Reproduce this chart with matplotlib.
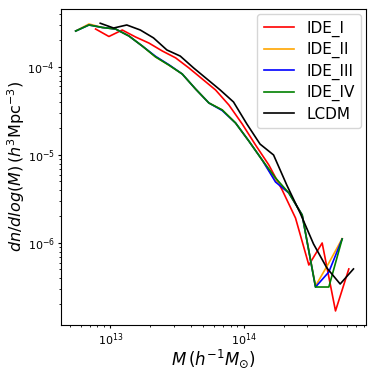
import matplotlib
matplotlib.use("Agg")
import matplotlib.pyplot as plt

# Mass bins (h^-1 Msun)
M_ide = [5.50e12, 6.92e12, 8.71e12, 1.096e13, 1.380e13, 1.738e13, 2.188e13, 2.754e13,
         3.467e13, 4.365e13, 5.495e13, 6.918e13, 8.710e13, 1.096e14, 1.380e14, 1.738e14,
         2.188e14, 2.754e14, 3.467e14, 4.365e14, 5.495e14]
M_ide1 = [7.76e12, 9.77e12, 1.230e13, 1.549e13, 1.950e13, 2.455e13, 3.090e13, 3.890e13,
          4.898e13, 6.166e13, 7.762e13, 9.772e13, 1.230e14, 1.549e14, 1.950e14, 2.455e14,
          3.090e14, 3.890e14, 4.898e14, 6.166e14]
M_lcdm = [8.41e12, 1.059e13, 1.33e13, 1.68e13, 2.11e13, 2.66e13, 3.35e13, 4.22e13,
          5.31e13, 6.68e13, 8.41e13, 1.059e14, 1.33e14, 1.68e14, 2.11e14, 2.66e14,
          3.35e14, 4.22e14, 5.31e14, 6.68e14]

ide1 = [2.70e-4, 2.22e-4, 2.63e-4, 2.19e-4, 1.87e-4, 1.52e-4, 1.27e-4, 9.75e-5,
        7.31e-5, 5.48e-5, 3.70e-5, 2.25e-5, 1.30e-5, 7.69e-6, 4.00e-6, 1.92e-6,
        5.62e-7, 1.00e-6, 1.69e-7, 5.07e-7]
ide2 = [2.56e-4, 3.08e-4, 2.81e-4, 2.70e-4, 2.25e-4, 1.73e-4, 1.30e-4, 1.05e-4,
        8.32e-5, 5.62e-5, 3.90e-5, 3.25e-5, 2.31e-5, 1.44e-5, 8.77e-6, 5.10e-6,
        3.70e-6, 2.08e-6, 3.24e-7, 5.93e-7, 1.12e-6]
ide3 = [2.56e-4, 3.00e-4, 2.81e-4, 2.70e-4, 2.25e-4, 1.73e-4, 1.32e-4, 1.06e-4,
        8.32e-5, 5.62e-5, 3.90e-5, 3.20e-5, 2.31e-5, 1.44e-5, 8.77e-6, 4.93e-6,
        3.70e-6, 2.08e-6, 3.16e-7, 4.68e-7, 1.11e-6]
ide4 = [2.56e-4, 3.00e-4, 2.81e-4, 2.70e-4, 2.25e-4, 1.73e-4, 1.30e-4, 1.05e-4,
        8.32e-5, 5.62e-5, 3.90e-5, 3.25e-5, 2.31e-5, 1.44e-5, 8.77e-6, 5.48e-6,
        3.70e-6, 2.08e-6, 3.16e-7, 3.16e-7, 1.11e-6]
lcdm = [3.14e-4, 2.77e-4, 3.00e-4, 2.63e-4, 2.14e-4, 1.56e-4, 1.33e-4, 9.75e-5,
        7.31e-5, 5.48e-5, 4.00e-5, 2.25e-5, 1.33e-5, 1.00e-5, 4.56e-6, 2.19e-6,
        9.75e-7, 5.20e-7, 3.42e-7, 5.07e-7]

fig = plt.figure(figsize=(3.74, 3.74), dpi=100)
ax = fig.add_axes([0.163, 0.131, 0.816, 0.845])

lw = 1.2
ax.plot(M_ide1, ide1, color='red', lw=lw, label='IDE_I')
ax.plot(M_ide, ide2, color='orange', lw=lw, label='IDE_II')
ax.plot(M_ide, ide3, color='blue', lw=lw, label='IDE_III')
ax.plot(M_ide, ide4, color='green', lw=lw, label='IDE_IV')
ax.plot(M_lcdm, lcdm, color='black', lw=lw, label='LCDM')

ax.set_xscale('log')
ax.set_yscale('log')
ax.set_xlim(10**12.63, 10**14.92)
ax.set_ylim(10**-6.932, 10**-3.341)
ax.tick_params(which='major', labelsize=8, length=2.5, pad=2)
ax.tick_params(which='minor', length=1.5)
ax.set_xlabel(r'$M\,(h^{-1}M_{\odot})$', fontsize=12, labelpad=-0.5)
ax.set_ylabel(r'$dn/dlog(M)\,(h^3\mathrm{Mpc}^{-3})$', fontsize=11.5, labelpad=0)
ax.legend(loc='upper right', fontsize=11, labelspacing=0.35, borderaxespad=0.35)

fig.savefig('out.png', dpi=100)
